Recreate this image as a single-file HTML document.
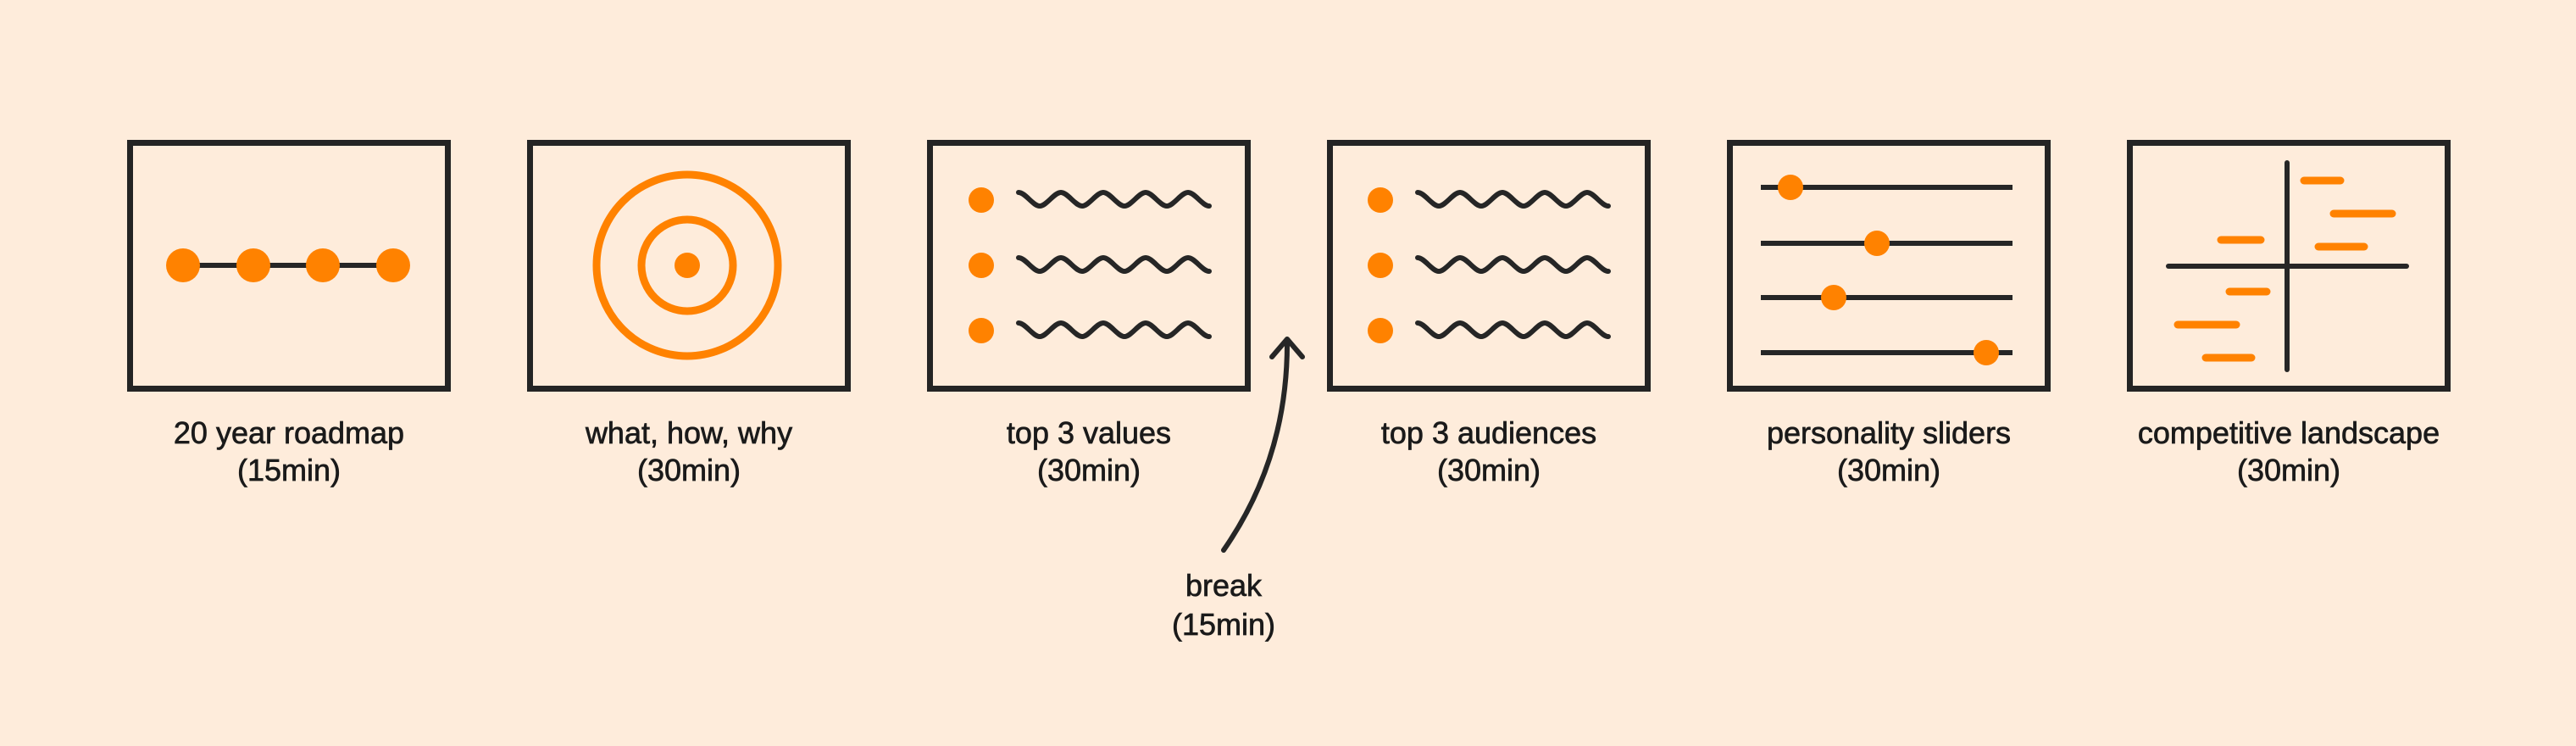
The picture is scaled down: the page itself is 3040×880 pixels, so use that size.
<!DOCTYPE html>
<html><head><meta charset="utf-8"><style>
html,body{margin:0;padding:0;background:#feecdb;}
svg{display:block}
text{font-family:"Liberation Sans",sans-serif;font-size:36px;fill:#1a1a1a;stroke:#1a1a1a;stroke-width:0.7;text-anchor:middle;}
</style></head><body>
<svg width="3040" height="880" viewBox="0 0 3040 880" xmlns="http://www.w3.org/2000/svg">
<rect width="3040" height="880" fill="#feecdb"/>
<defs>
<path id="wave" d="M0,-8 C8,-8 17,8 25,8 C33,8 42,-8 50,-8 C58,-8 67,8 75,8 C83,8 92,-8 100,-8 C108,-8 117,8 125,8 C133,8 142,-8 150,-8 C158,-8 167,8 175,8 C183,8 192,-8 200,-8 C208,-8 217,8 225,8" fill="none" stroke="#262626" stroke-width="6" stroke-linecap="round"/>
</defs>
<g fill="none" stroke="#242424" stroke-width="7">
<rect x="153.5" y="168.5" width="375" height="290"/>
<rect x="625.5" y="168.5" width="375" height="290"/>
<rect x="1097.5" y="168.5" width="375" height="290"/>
<rect x="1569.5" y="168.5" width="375" height="290"/>
<rect x="2041.5" y="168.5" width="375" height="290"/>
<rect x="2513.5" y="168.5" width="375" height="290"/>
</g>
<line x1="216" y1="313" x2="464" y2="313" stroke="#262626" stroke-width="6"/>
<g fill="#ff8200"><circle cx="216" cy="313" r="20"/><circle cx="299" cy="313" r="20"/><circle cx="381" cy="313" r="20"/><circle cx="464" cy="313" r="20"/></g>
<g fill="none" stroke="#ff8200" stroke-width="9"><circle cx="811" cy="313" r="107"/><circle cx="811" cy="313" r="54"/></g>
<circle cx="811" cy="313" r="15" fill="#ff8200"/>
<g fill="#ff8200"><circle cx="1158" cy="236" r="15"/><circle cx="1158" cy="313" r="15"/><circle cx="1158" cy="390" r="15"/>
<circle cx="1629" cy="236" r="15"/><circle cx="1629" cy="313" r="15"/><circle cx="1629" cy="390" r="15"/></g>
<use href="#wave" x="1202" y="235"/><use href="#wave" x="1202" y="312"/><use href="#wave" x="1202" y="389"/>
<use href="#wave" x="1673" y="235"/><use href="#wave" x="1673" y="312"/><use href="#wave" x="1673" y="389"/>
<g stroke="#262626" stroke-width="6"><line x1="2078" y1="221" x2="2375" y2="221"/><line x1="2078" y1="287" x2="2375" y2="287"/><line x1="2078" y1="351" x2="2375" y2="351"/><line x1="2078" y1="416" x2="2375" y2="416"/></g>
<g fill="#ff8200"><circle cx="2113" cy="221" r="15"/><circle cx="2215" cy="287" r="15"/><circle cx="2164" cy="351" r="15"/><circle cx="2344" cy="416" r="15"/></g>
<g stroke="#262626" stroke-width="6" stroke-linecap="round"><line x1="2699" y1="192" x2="2699" y2="436"/><line x1="2559" y1="314" x2="2840" y2="314"/></g>
<g stroke="#ff8200" stroke-width="9" stroke-linecap="round">
<line x1="2719" y1="213" x2="2762" y2="213"/>
<line x1="2754" y1="252" x2="2823" y2="252"/>
<line x1="2621" y1="283" x2="2668" y2="283"/>
<line x1="2736" y1="291" x2="2790" y2="291"/>
<line x1="2631" y1="344" x2="2675" y2="344"/>
<line x1="2570" y1="383" x2="2639" y2="383"/>
<line x1="2603" y1="422" x2="2657" y2="422"/>
</g>
<g fill="none" stroke="#262626" stroke-width="6" stroke-linecap="round" stroke-linejoin="round">
<path d="M1444,649 Q1520,540 1519,402"/>
<path d="M1501,421 L1519,400 L1537,421"/>
</g>
<text x="341" y="523">20 year roadmap</text><text x="341" y="567">(15min)</text>
<text x="813" y="523">what, how, why</text><text x="813" y="567">(30min)</text>
<text x="1285" y="523">top 3 values</text><text x="1285" y="567">(30min)</text>
<text x="1757" y="523">top 3 audiences</text><text x="1757" y="567">(30min)</text>
<text x="2229" y="523">personality sliders</text><text x="2229" y="567">(30min)</text>
<text x="2701" y="523">competitive landscape</text><text x="2701" y="567">(30min)</text>
<text x="1444" y="703">break</text><text x="1444" y="749">(15min)</text>
</svg>
</body></html>
